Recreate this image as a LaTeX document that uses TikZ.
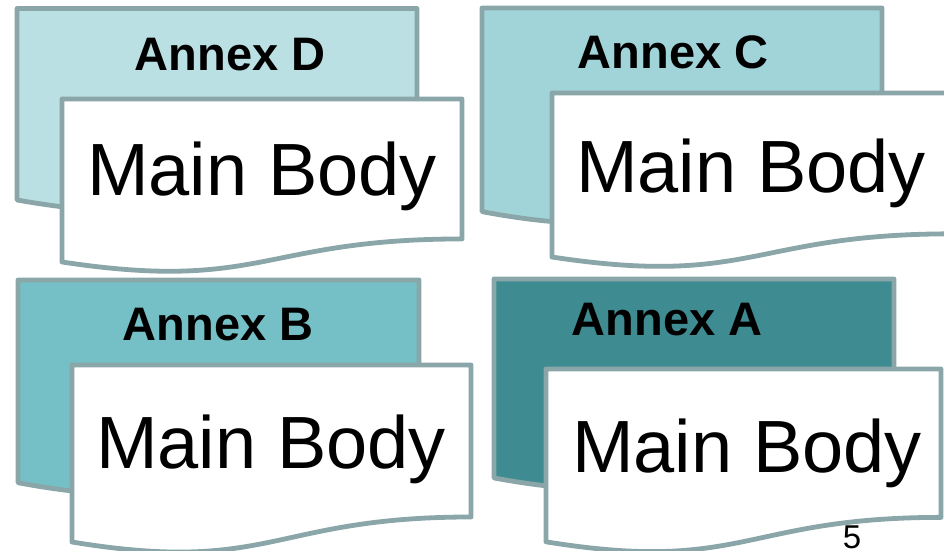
\documentclass[tikz,border=0pt]{standalone}
\usepackage{fontspec}
\setmainfont{Liberation Sans}
\definecolor{edgegrey}{HTML}{8AA6A8}
\definecolor{annexD}{HTML}{BBE0E3}
\definecolor{annexC}{HTML}{A1D4D9}
\definecolor{annexB}{HTML}{74C0C6}
\definecolor{annexA}{HTML}{3E8C92}
% document sheet with a wavy lower edge: style, left, top, width, height
\newcommand{\docsheet}[5]{%
  \pgfmathsetmacro\docXr{#2+#4}%
  \pgfmathsetmacro\docXm{#2+0.5*#4}%
  \pgfmathsetmacro\docYr{#3+0.802*#5}%
  \pgfmathsetmacro\docYl{#3+0.934*#5}%
  \pgfmathsetmacro\docYc{#3+1.107*#5}%
  \draw[#1] (#2,#3) -- (\docXr,#3) -- (\docXr,\docYr)
    .. controls (\docXm,\docYr) and (\docXm,\docYc) .. (#2,\docYl) -- cycle;
}
\tikzset{
  sheet/.style={draw=edgegrey, line width=4.8pt, line join=round},
  annexlabel/.style={anchor=base, inner sep=0pt, font=\bfseries\fontsize{47}{50}\selectfont},
  bodylabel/.style={anchor=base, inner sep=0pt, font=\fontsize{74}{80}\selectfont},
}
\begin{document}
\begin{tikzpicture}[x=1pt, y=-1pt]
\useasboundingbox (0,0) rectangle (944,550);
\clip (0,0) rectangle (944,550);

% Annex D with its main body
\docsheet{sheet, fill=annexD}{17}{8.5}{400}{205}
\node[annexlabel] (annexD) at (230,70) {Annex D};
\docsheet{sheet, fill=white}{62}{99}{400}{174.5}
\node[bodylabel] (bodyD) at (262,195) {Main Body};

% Annex C with its main body
\docsheet{sheet, fill=annexC}{482}{8}{400}{218}
\node[annexlabel] (annexC) at (673,68) {Annex C};
\docsheet{sheet, fill=white}{552}{93}{400}{175.6}
\node[bodylabel] (bodyC) at (751,192) {Main Body};

% Annex B with its main body
\docsheet{sheet, fill=annexB}{18}{280}{401}{217}
\node[annexlabel] (annexB) at (218,340) {Annex B};
\docsheet{sheet, fill=white}{72}{365}{399}{189.5}
\node[bodylabel] (bodyB) at (271,468) {Main Body};

% Annex A with its main body
\docsheet{sheet, fill=annexA}{494}{279}{400}{213}
\node[annexlabel] (annexA) at (667,335) {Annex A};
\docsheet{sheet, fill=white}{546}{369}{395}{185}
\node[bodylabel] (bodyA) at (747,472) {Main Body};

% page number
\node[anchor=base, inner sep=0pt, font=\fontsize{33}{36}\selectfont] (pagenum) at (852,548) {5};
\end{tikzpicture}
\end{document}
